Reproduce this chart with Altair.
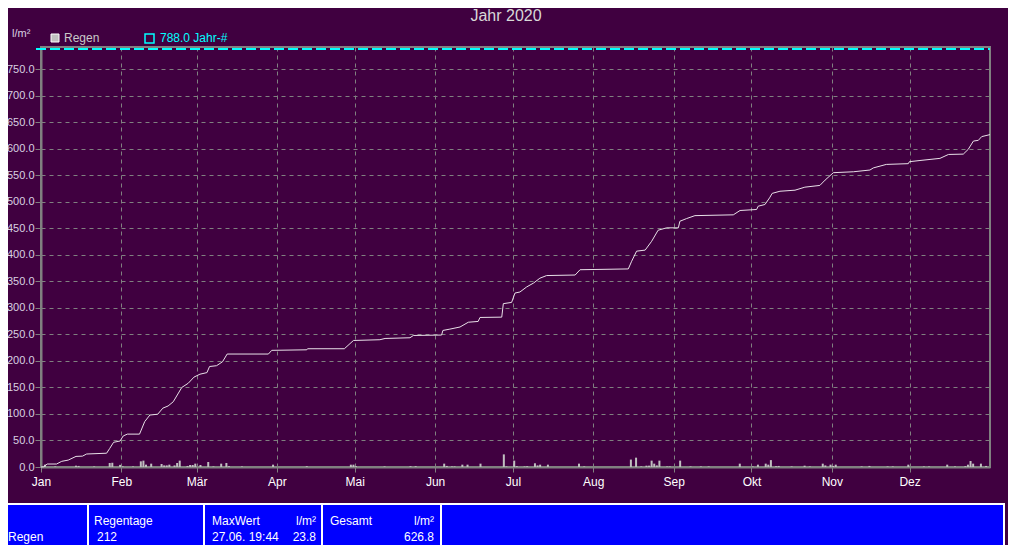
import altair as alt
import pandas as pd

# ---------------- data ----------------
titel = "Jahr 2020"
einheit = "l/m²"
serie_regen = "Regen"
serie_jahr = "788.0 Jahr-#"
jahr_wert = 788.0

monate = ["Jan", "Feb", "Mär", "Apr", "Mai", "Jun", "Jul", "Aug", "Sep", "Okt", "Nov", "Dez"]
monat_start = [0, 31, 60, 91, 121, 152, 182, 213, 244, 274, 305, 335]
y_ticks = list(range(0, 751, 50))

# cumulative rain (day offset from 1 Jan, l/m²)
kum_tag = [0, 1, 2.4, 6, 8, 10.5, 13.5, 16, 17.6, 25.3, 26.5, 28, 30.5, 31.7, 33.3, 38,
           40, 42, 45, 47, 49, 51, 54.3, 56.8, 59, 61.3, 64, 65, 67.7, 70, 71.8, 87.7,
           89, 102.5, 102.8, 117, 120.5, 130.7, 132.7, 142.3, 143.6, 154.5, 155, 157.7,
           161.6, 164.8, 168.6, 169.3, 177.7, 178.3, 181.5, 182.8, 184.7, 187.3, 190,
           192.4, 195, 206, 207.9, 226.5, 227.8, 229.7, 233, 235.5, 238, 241.3, 245.8,
           246.4, 249, 252.2, 267, 269.6, 276, 276.6, 279.2, 281, 282, 285, 290.8, 294.6,
           300.4, 302.4, 305.6, 313.3, 319.7, 321, 326, 334.5, 334.9, 339, 346.7, 350,
           355.7, 357.6, 359.6, 361.5, 362.8, 366]
kum_summe = [0, 0.5, 5.6, 5.6, 10.7, 13, 20, 20.5, 24.5, 26, 35, 46.6, 49, 58.5, 62, 62,
             85.6, 98, 99.5, 111, 115, 123, 150, 158, 169.5, 175, 178, 189.5, 191, 198.4,
             213, 213, 220, 221, 223, 223, 238.6, 240, 242.4, 243.7, 248, 248.8, 257.5,
             260, 264, 273, 274.5, 282, 282.6, 308, 310.4, 328, 330, 339.5, 347, 356, 361,
             362, 372, 373.5, 388, 407, 409, 425.6, 446.5, 451, 451, 463.4, 468.5, 474,
             475.5, 483.7, 485.6, 491.8, 495, 507.6, 516, 520, 522, 527.7, 531, 541, 555,
             556.7, 560, 564, 570.6, 572, 575.7, 578, 582, 589.4, 590, 599, 614.6, 616,
             623, 626.8]

# daily rain (day of year, l/m²)
regen_tag = [2, 6, 14, 15, 21, 27, 28, 31, 32, 36, 39, 40, 41, 43, 47, 48, 49, 50, 52,
             53, 54, 57, 58, 59, 60, 62, 65, 67, 70, 72, 73, 78, 90, 103, 120, 121, 122,
             133, 143, 145, 156, 157, 159, 160, 163, 165, 170, 179, 180, 183, 184, 187,
             188, 191, 192, 193, 196, 208, 210, 228, 230, 232, 234, 235, 236, 237, 238,
             239, 242, 243, 247, 251, 255, 258, 270, 275, 277, 280, 281, 282, 284, 285,
             290, 295, 297, 302, 303, 305, 306, 307, 317, 320, 327, 329, 335, 341, 343,
             350, 353, 357, 358, 359, 360, 363, 365]
regen_mm = [4.4, 1.0, 2.5, 2.0, 1.0, 7.5, 8.0, 4.0, 1.2, 1.0, 10.7, 12.0, 4.4, 6.3, 5.7,
            3.0, 3.0, 4.4, 3.0, 7.5, 12.0, 2.0, 3.8, 3.8, 6.3, 3.8, 9.4, 1.0, 6.3, 7.5,
            1.5, 1.0, 4.4, 1.5, 4.4, 4.4, 1.5, 1.0, 1.5, 1.5, 6.3, 2.0, 1.0, 1.0, 4.4,
            4.4, 6.3, 23.8, 1.0, 12.0, 1.5, 1.0, 1.5, 7.0, 3.0, 4.4, 4.4, 6.3, 1.0, 14.0,
            17.6, 1.0, 2.5, 2.5, 12.0, 6.3, 3.0, 12.0, 1.0, 1.0, 12.0, 1.0, 1.0, 1.0, 6.3,
            1.0, 4.4, 6.3, 4.4, 13.0, 1.5, 2.0, 1.0, 2.5, 1.0, 6.3, 3.0, 4.4, 2.0, 4.4,
            1.0, 2.0, 1.0, 1.0, 4.4, 1.0, 1.0, 4.4, 1.0, 1.5, 4.4, 11.3, 6.3, 6.3, 2.0]

# table texts
tab_regen = "Regen"
tab_maxwert_zeile = "MaxWert"
tab_regentage = "Regentage"
tab_regentage_wert = "212"
tab_maxwert = "MaxWert"
tab_maxwert_zeit = "27.06.  19:44"
tab_maxwert_wert = "23.8"
tab_gesamt = "Gesamt"
tab_gesamt_wert = "626.8"

# ---------------- styling ----------------
BG = "#400040"
GRID = "#808080"
FONT = "Liberation Sans"
W, H = 949, 420

df_line = pd.DataFrame({"tag": kum_tag, "summe": kum_summe})
df_bar = pd.DataFrame({"tag": regen_tag, "mm": regen_mm})

x_scale = alt.Scale(domain=[0, 366], nice=False, zero=False, padding=0)
y_scale = alt.Scale(domain=[0, 792], nice=False, padding=0)

label_expr = "[" + ",".join("'%s'" % m for m in monate) + "][indexof([" + \
    ",".join(str(v) for v in monat_start) + "], datum.value)]"

x_axis = alt.Axis(values=monat_start, labelExpr=label_expr, title=None,
                  labelColor="#FFFFFF", labelFont=FONT, labelFontSize=12,
                  labelPadding=4, tickSize=5, tickColor=GRID, domainColor=GRID,
                  domainWidth=2, grid=True, gridColor=GRID, gridDash=[4, 4],
                  gridWidth=1, labelFlush=False)
y_axis = alt.Axis(values=y_ticks, format=".1f", title=None, labelColor="#D8D0E0",
                  labelFont=FONT, labelFontSize=11, labelPadding=1, tickSize=6,
                  tickColor=GRID, domainColor=GRID, domainWidth=2, grid=True,
                  gridColor=GRID, gridDash=[4, 4], gridWidth=1)

bars = alt.Chart(df_bar).transform_calculate(mitte="datum.tag - 0.5").mark_bar(
    size=2, color="#C0C0C0").encode(
    x=alt.X("mitte:Q", scale=x_scale, axis=x_axis),
    y=alt.Y("mm:Q", scale=y_scale, axis=y_axis),
)

line = alt.Chart(df_line).mark_line(color="#E8E0E8", strokeWidth=1).encode(
    x=alt.X("tag:Q", scale=x_scale, axis=x_axis),
    y=alt.Y("summe:Q", scale=y_scale, axis=y_axis),
)

jahr_rule = alt.Chart(alt.Data(values=[{"v": jahr_wert}])).mark_rule(
    color="#00FFFF", strokeWidth=2, strokeDash=[10, 4]).encode(
    y=alt.Y("v:Q", scale=y_scale, axis=y_axis),
    x=alt.value(-5), x2=alt.value(W),
)


def one():
    return alt.Chart(alt.Data(values=[{"k": 1}]))


def txt(t, x, y, color="#FFFFFF", size=12, align="left", weight="normal"):
    return one().mark_text(text=t, align=align, baseline="alphabetic", font=FONT,
                           fontSize=size, color=color, fontWeight=weight).encode(
        x=alt.value(x), y=alt.value(y))


def rect(x, x2, y, y2, fill, stroke=None, sw=0):
    kw = dict(fill=fill, strokeWidth=sw)
    if stroke:
        kw["stroke"] = stroke
    return one().mark_rect(**kw).encode(x=alt.value(x), x2=alt.value(x2),
                                        y=alt.value(y), y2=alt.value(y2))


deco = [
    txt(titel, 465, -26, color="#D8D8D8", size=16, align="center"),
    txt(einheit, -29, -10, color="#D8D0E0", size=11),
    rect(10, 18, -13, -5, "#C0C0C0", "#FFFFFF", 1),
    txt(serie_regen, 23, -5, color="#C8C8C8", size=12),
    rect(104, 113, -13, -4, "transparent", "#00FFFF", 1.5),
    txt(serie_jahr, 119, -5, color="#00FFFF", size=12),
]

# table at the bottom
table = [
    rect(-41, 964, 456, 500, "#FFFFFF"),
    rect(-41, 962, 458, 500, "#0000FF"),
]
for sx in [47, 163, 281, 400]:
    table.append(rect(sx - 1, sx + 1, 457, 500, "#FFFFFF"))
table += [
    txt(tab_regen, -33, 494),
    txt(tab_maxwert_zeile, -33, 509),
    txt(tab_regentage, 53, 478),
    txt(tab_regentage_wert, 56, 494),
    txt(tab_maxwert, 171, 478),
    txt(einheit, 275, 478, align="right"),
    txt(tab_maxwert_zeit, 171, 494),
    txt(tab_maxwert_wert, 275, 494, align="right"),
    txt(tab_gesamt, 289, 478),
    txt(einheit, 393, 478, align="right"),
    txt(tab_gesamt_wert, 393, 494, align="right"),
]

chart = alt.layer(bars, line, jahr_rule, *deco, *table).properties(
    width=W, height=H,
    autosize=alt.AutoSizeParams(type="none"),
    padding={"left": 33, "top": 39, "right": 18, "bottom": 78},
    background=BG,
).configure_view(stroke=GRID, strokeWidth=2)

chart.save("out.html", embed_options={"renderer": "svg", "actions": False})
